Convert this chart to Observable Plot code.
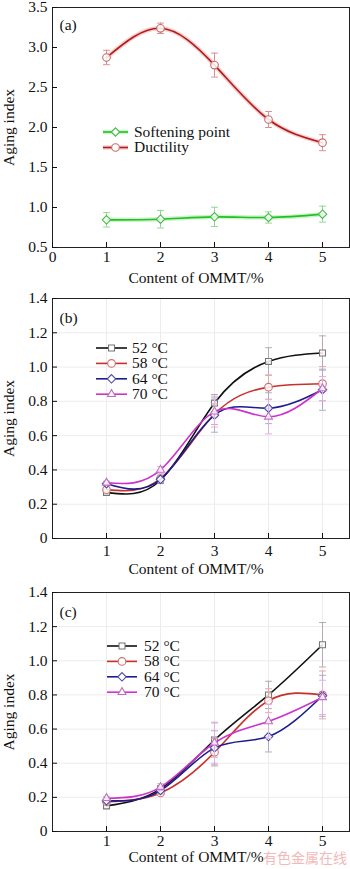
<!DOCTYPE html>
<html><head><meta charset="utf-8">
<script src="https://cdn.jsdelivr.net/npm/d3@7"></script>
<script src="https://cdn.jsdelivr.net/npm/@observablehq/plot@0.6"></script>
<style>
body{margin:0;background:#fff;width:350px;overflow:hidden}
#wrap{position:relative;width:350px;height:869px}
svg{display:block}
.wm{position:absolute;left:263px;top:849px;font-family:"Noto Sans CJK SC";font-size:14px;line-height:16px;color:#f3b8b8;white-space:nowrap}
</style></head><body><div id="wrap"></div>
<script>
// ---------- data ----------
const contents = [1, 2, 3, 4, 5];

// panel (a)
const seriesA = ["Softening point", "Ductility"];
const softening = [0.846, 0.854, 0.883, 0.875, 0.917];
const softeningErr = [0.09, 0.11, 0.12, 0.07, 0.10];
const ductility = [2.875, 3.24, 2.78, 2.10, 1.81];
const ductilityErr = [0.09, 0.065, 0.15, 0.10, 0.10];

// panels (b), (c)
const temps = ["52 °C", "58 °C", "64 °C", "70 °C"];
const b52 = [0.269, 0.34, 0.79, 1.033, 1.082];
const b58 = [0.285, 0.35, 0.725, 0.883, 0.903];
const b64 = [0.32, 0.345, 0.72, 0.76, 0.868];
const b70 = [0.325, 0.40, 0.74, 0.71, 0.875];
const b52Err = [0.01, 0.02, 0.05, 0.08, 0.10];
const b58Err = [0.01, 0.02, 0.06, 0.07, 0.10];
const b64Err = [0.01, 0.02, 0.10, 0.09, 0.12];
const b70Err = [0.01, 0.02, 0.09, 0.10, 0.07];

const c52 = [0.15, 0.25, 0.536, 0.80, 1.094];
const c58 = [0.175, 0.226, 0.464, 0.766, 0.80];
const c64 = [0.18, 0.24, 0.49, 0.556, 0.795];
const c70 = [0.195, 0.26, 0.52, 0.645, 0.786];
const c52Err = [0.01, 0.01, 0.10, 0.08, 0.13];
const c58Err = [0.01, 0.01, 0.08, 0.07, 0.14];
const c64Err = [0.01, 0.02, 0.10, 0.09, 0.12];
const c70Err = [0.01, 0.02, 0.12, 0.10, 0.10];

const xTicksA = [0, 1, 2, 3, 4, 5];
const xTicksBC = [1, 2, 3, 4, 5];
const yTicksA = [0.5, 1.0, 1.5, 2.0, 2.5, 3.0, 3.5];
const yTicksBC = [0, 0.2, 0.4, 0.6, 0.8, 1.0, 1.2, 1.4];
const xTitle = "Content of OMMT/%";
const yTitle = "Aging index";

// ---------- styles ----------
const FONT = '"Liberation Serif", "DejaVu Serif", serif';
const FS = 15.5;
const styleA = [
  {line: "#22c022", halo: "#9be89b", mark: "#44bb44", err: "#8fd88f", symbol: "diamond2"},
  {line: "#b01c1c", halo: "#f0a0a0", mark: "#c86a6a", err: "#d89090", symbol: "circle"}
];
const styleT = [
  {line: "#111111", mark: "#777777", err: "#b8a8b0", symbol: "square2"},
  {line: "#c8302a", mark: "#d07070", err: "#e0a8a8", symbol: "circle"},
  {line: "#1c1c8c", mark: "#4a4aa8", err: "#b0a8c8", symbol: "diamond2"},
  {line: "#cc33cc", mark: "#c070c0", err: "#e0b0e0", symbol: "triangle2"}
];
const capShape = {draw(c, l) { c.moveTo(0, 0); c.lineTo(0, -l); }};

function rowsOf(vals, errs) {
  return contents.map((x, i) => ({x, y: vals[i], lo: vals[i] - errs[i], hi: vals[i] + errs[i]}));
}

function seriesMarks(rows, st, halo) {
  const m = [];
  m.push(Plot.ruleX(rows, {x: "x", y1: "lo", y2: "hi", stroke: st.err, strokeWidth: 1}));
  m.push(Plot.vector(rows, {x: "x", y: "hi", length: 6, rotate: 90, anchor: "middle", shape: capShape, stroke: st.err, strokeWidth: 1}));
  m.push(Plot.vector(rows, {x: "x", y: "lo", length: 6, rotate: 90, anchor: "middle", shape: capShape, stroke: st.err, strokeWidth: 1}));
  if (halo) m.push(Plot.line(rows, {x: "x", y: "y", stroke: st.halo, strokeWidth: 4.5, strokeOpacity: 0.5, curve: "natural"}));
  m.push(Plot.line(rows, {x: "x", y: "y", stroke: st.line, strokeWidth: 1.6, curve: "natural"}));
  m.push(Plot.dot(rows, {x: "x", y: "y", symbol: () => st.symbol, r: 3.8, fill: "white", fillOpacity: 0.85, stroke: st.mark, strokeWidth: 1.1}));
  return m;
}

function panel({series, styles, halo, yDomain, yTicks, yFmt, xTicks, tag, tagDy, marginTop, marginBottom, height, grid, legend, xPad, xTitleDy}) {
  const marks = [];
  if (grid) {
    marks.push(Plot.gridX(xTicks, {stroke: "#ececec", strokeOpacity: 1}));
    marks.push(Plot.gridY(yTicks, {stroke: "#ececec", strokeOpacity: 1}));
  }
  series.forEach((rows, i) => marks.push(...seriesMarks(rows, styles[i], halo)));
  marks.push(Plot.frame({stroke: "#222", strokeWidth: 1}));
  marks.push(Plot.axisX(xTicks, {tickSize: -5, tickPadding: xPad, tickFormat: d => String(d), fontSize: FS, label: null}));
  marks.push(Plot.text([xTitle], {text: d => d, frameAnchor: "bottom", dx: -5, dy: xTitleDy, lineAnchor: "middle", fontSize: FS}));
  marks.push(Plot.axisY(yTicks, {tickSize: -5, tickPadding: 10, tickFormat: yFmt, fontSize: FS,
    label: yTitle, labelAnchor: "center", labelArrow: "none", labelOffset: 50}));
  marks.push(Plot.text([tag], {text: d => d, frameAnchor: "top-left", dx: 7, dy: tagDy, fontSize: FS, textAnchor: "start"}));
  const svg = Plot.plot({
    width: 350, height, marginLeft: 52, marginRight: 1, marginTop, marginBottom,
    style: {fontFamily: FONT, fontSize: FS + "px", color: "#111", background: "transparent"},
    x: {domain: [0, 5.5]},
    y: {domain: yDomain},
    marks
  });
  // legend (drawn into the svg with d3)
  const g = d3.select(svg).append("g").attr("font-family", FONT).attr("font-size", FS).attr("text-anchor", "start");
  legend.labels.forEach((lab, i) => {
    const y = legend.y0 + i * legend.dy;
    const st = styles[i];
    if (halo) g.append("line").attr("x1", legend.x0).attr("x2", legend.x1).attr("y1", y).attr("y2", y)
      .attr("stroke", st.halo).attr("stroke-width", 4.5).attr("stroke-opacity", 0.5);
    g.append("line").attr("x1", legend.x0).attr("x2", legend.x1).attr("y1", y).attr("y2", y)
      .attr("stroke", st.line).attr("stroke-width", 1.6);
    const symType = {circle: d3.symbolCircle, square2: d3.symbolSquare2, diamond2: d3.symbolDiamond2, triangle2: d3.symbolTriangle2}[st.symbol];
    g.append("path").attr("d", d3.symbol(symType, Math.PI * 3.8 * 3.8)())
      .attr("transform", `translate(${(legend.x0 + legend.x1) / 2},${y})`)
      .attr("fill", "white").attr("stroke", st.mark).attr("stroke-width", 1.1);
    g.append("text").attr("x", legend.tx).attr("y", y).attr("dy", "0.32em").attr("fill", "#111").text(lab);
  });
  return svg;
}

const wrap = document.getElementById("wrap");
const fmt1 = d3.format(".1f");
const fmtBC = d => d === 0 ? "0" : d.toFixed(1);

wrap.appendChild(panel({
  series: [rowsOf(softening, softeningErr), rowsOf(ductility, ductilityErr)],
  styles: styleA, halo: true, yDomain: [0.5, 3.5], yTicks: yTicksA, yFmt: fmt1, xTicks: xTicksA,
  tag: "(a)", tagDy: 11, marginTop: 7, marginBottom: 43, height: 290, grid: false, xPad: 8, xTitleDy: 30.5,
  legend: {labels: seriesA, x0: 103, x1: 128, tx: 134, y0: 132, dy: 15.5}
}));
wrap.appendChild(panel({
  series: [rowsOf(b52, b52Err), rowsOf(b58, b58Err), rowsOf(b64, b64Err), rowsOf(b70, b70Err)],
  styles: styleT, halo: false, yDomain: [0, 1.4], yTicks: yTicksBC, yFmt: fmtBC, xTicks: xTicksBC,
  tag: "(b)", tagDy: 13, marginTop: 8, marginBottom: 42, height: 290, grid: true, xPad: 11, xTitleDy: 31,
  legend: {labels: temps, x0: 96, x1: 127, tx: 132, y0: 58, dy: 15.4}
}));
wrap.appendChild(panel({
  series: [rowsOf(c52, c52Err), rowsOf(c58, c58Err), rowsOf(c64, c64Err), rowsOf(c70, c70Err)],
  styles: styleT, halo: false, yDomain: [0, 1.4], yTicks: yTicksBC, yFmt: fmtBC, xTicks: xTicksBC,
  tag: "(c)", tagDy: 13, marginTop: 12, marginBottom: 38, height: 289, grid: true, xPad: 8, xTitleDy: 26,
  legend: {labels: temps, x0: 107, x1: 137, tx: 144, y0: 66, dy: 15.4}
}));
const wm = document.createElement("div");
wm.className = "wm";
wm.textContent = "有色金属在线";
wrap.appendChild(wm);
</script></body></html>
